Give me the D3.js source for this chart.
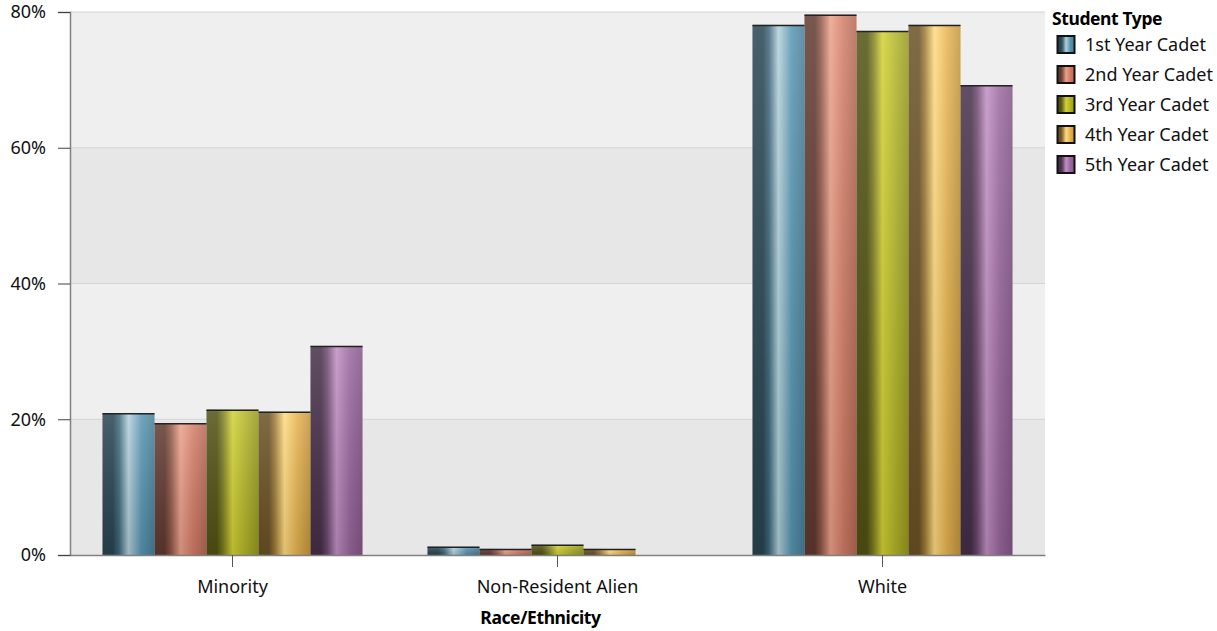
<!DOCTYPE html>
<html><head><meta charset="utf-8">
<script src="https://cdn.jsdelivr.net/npm/d3@7"></script>
<style>body{margin:0;background:#fff;font-family:"Noto Sans",sans-serif;}</style>
</head><body><svg id="c" width="1217" height="631"></svg>
<script>
const categories = ["Minority", "Non-Resident Alien", "White"];
const seriesNames = ["1st Year Cadet", "2nd Year Cadet", "3rd Year Cadet", "4th Year Cadet", "5th Year Cadet"];
const colors = ["#5796b2", "#d27c66", "#b2b428", "#e6b24e", "#9a679e"];
const lights = ["#b3d0da", "#eba08a", "#d3d134", "#ffdb80", "#c08fc2"];
const vals1st = [20.9, 1.2, 78.1];
const vals2nd = [19.4, 0.9, 79.6];
const vals3rd = [21.4, 1.5, 77.2];
const vals4th = [21.1, 0.9, 78.1];
const vals5th = [30.8, null, 69.2];
const seriesValues = [vals1st, vals2nd, vals3rd, vals4th, vals5th];
const yTicks = [0, 20, 40, 60, 80];

const svg = d3.select("#c");
const L = 70, R = 1045, T = 12, B = 555;
const x = d3.scaleBand().domain(categories).range([L, R]).paddingInner(0.2).paddingOuter(0.1);
const xs = d3.scaleBand().domain(seriesNames).range([0, x.bandwidth()]);
const y = d3.scaleLinear().domain([0, 80]).range([B, T]);

const bands = [[0,20,"#e7e7e7"],[20,40,"#efefef"],[40,60,"#e7e7e7"],[60,80,"#efefef"]];
svg.selectAll("rect.bg").data(bands).enter().append("rect")
  .attr("x", L).attr("width", R - L)
  .attr("y", d => y(d[1])).attr("height", d => y(d[0]) - y(d[1]))
  .attr("fill", d => d[2]);
svg.selectAll("line.grid").data(yTicks.slice(1)).enter().append("line")
  .attr("x1", L).attr("x2", R).attr("y1", d => y(d)).attr("y2", d => y(d))
  .attr("stroke", "#d4d4d4").attr("stroke-width", 1);

const defs = svg.append("defs");
seriesNames.forEach((s, i) => {
  const g = defs.append("linearGradient").attr("id", "g" + i).attr("x1", 0).attr("x2", 1).attr("y1", 0).attr("y2", 0);
  const dark = d3.color(colors[i]).darker(2.2);
  g.append("stop").attr("offset", "0%").attr("stop-color", dark);
  g.append("stop").attr("offset", "20%").attr("stop-color", dark);
  g.append("stop").attr("offset", "32%").attr("stop-color", d3.color(colors[i]).darker(1));
  g.append("stop").attr("offset", "50%").attr("stop-color", lights[i]);
  g.append("stop").attr("offset", "75%").attr("stop-color", colors[i]);
  g.append("stop").attr("offset", "100%").attr("stop-color", d3.color(colors[i]).darker(0.5));
});
const vg = defs.append("linearGradient").attr("id", "vshade").attr("x1", 0).attr("x2", 0).attr("y1", 0).attr("y2", 1);
vg.append("stop").attr("offset", "0%").attr("stop-color", "#fff").attr("stop-opacity", 0.15);
vg.append("stop").attr("offset", "100%").attr("stop-color", "#000").attr("stop-opacity", 0.12);

const data = [];
categories.forEach((c, ci) => seriesNames.forEach((s, si) => {
  const v = seriesValues[si][ci];
  if (v != null) data.push({c, s, si, v});
}));
const bars = svg.append("g");
bars.selectAll("rect.bar").data(data).enter().append("rect")
  .attr("x", d => x(d.c) + xs(d.s)).attr("width", xs.bandwidth())
  .attr("y", d => y(d.v)).attr("height", d => B - y(d.v))
  .attr("fill", d => `url(#g${d.si})`);
bars.selectAll("rect.sh").data(data).enter().append("rect")
  .attr("x", d => x(d.c) + xs(d.s)).attr("width", xs.bandwidth())
  .attr("y", d => y(d.v)).attr("height", d => B - y(d.v))
  .attr("fill", "url(#vshade)");
bars.selectAll("line.top").data(data).enter().append("line")
  .attr("x1", d => x(d.c) + xs(d.s)).attr("x2", d => x(d.c) + xs(d.s) + xs.bandwidth())
  .attr("y1", d => y(d.v) + 0.5).attr("y2", d => y(d.v) + 0.5)
  .attr("stroke", "#222").attr("stroke-width", 1.5);

const yAxis = svg.append("g").attr("transform", `translate(${L},0)`)
  .call(d3.axisLeft(y).tickValues(yTicks).tickFormat(d => d + "%").tickSize(12).tickPadding(12));
yAxis.select(".domain").attr("stroke", "#808080").attr("stroke-width", 1.5);
yAxis.selectAll(".tick line").attr("stroke", "#404040");
yAxis.selectAll("text").attr("font-size", 18).attr("fill", "#111").attr("font-family", "Noto Sans");

const xAxis = svg.append("g").attr("transform", `translate(0,${B})`)
  .call(d3.axisBottom(x).tickSize(12).tickSizeOuter(0).tickPadding(13));
xAxis.select(".domain").attr("stroke", "#808080").attr("stroke-width", 1.5);
xAxis.selectAll(".tick line").attr("stroke", "#555");
xAxis.selectAll("text").attr("font-size", 18).attr("fill", "#111").attr("font-family", "Noto Sans");

svg.append("text").attr("x", (L + R) / 2 - 17).attr("y", 624).attr("text-anchor", "middle")
  .attr("font-size", 17.5).attr("font-weight", "bold").attr("fill", "#000").attr("letter-spacing", -0.4)
  .text("Race/Ethnicity");

const lg = svg.append("g").attr("transform", "translate(1052,0)");
lg.append("text").attr("x", 0).attr("y", 25).attr("font-size", 17.5).attr("font-weight", "bold")
  .attr("letter-spacing", -0.4).text("Student Type");
const items = lg.selectAll("g.it").data(seriesNames).enter().append("g")
  .attr("transform", (d, i) => `translate(0,${44 + i * 30})`);
items.append("rect").attr("x", 5.5).attr("y", -8).attr("width", 17).attr("height", 17)
  .attr("fill", (d, i) => `url(#g${i})`).attr("stroke", "#111").attr("stroke-width", 2);
items.append("text").attr("x", 33).attr("y", 7).attr("font-size", 18).attr("fill", "#111").text(d => d);
</script>
</body></html>
